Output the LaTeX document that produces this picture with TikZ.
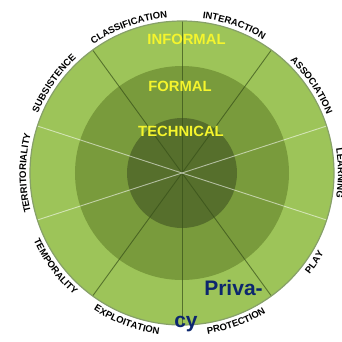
\documentclass[tikz,border=0pt]{standalone}
\usepackage{fontspec}
\setmainfont{Liberation Sans}
\usetikzlibrary{decorations.text}

\definecolor{ringOuter}{RGB}{157,196,89}
\definecolor{ringMiddle}{RGB}{121,155,60}
\definecolor{ringInner}{RGB}{86,111,44}
\definecolor{rimGrey}{RGB}{135,160,105}
\definecolor{spokeDark}{RGB}{55,80,25}
\definecolor{titleYellow}{RGB}{245,245,45}
\definecolor{privNavy}{RGB}{12,38,110}

\newcommand{\labelfont}{\fontsize{9.5}{10}\selectfont\bfseries}

\tikzset{
  darkspoke/.style={spokeDark, opacity=0.7, line width=0.9pt},
  lightspoke/.style={white, opacity=0.55, line width=0.9pt},
  rim/.style={rimGrey, line width=1.2pt},
  ringtitle/.style={titleYellow, font=\fontsize{14.8}{16}\selectfont\bfseries, inner sep=0pt},
  privtext/.style={privNavy, font=\fontsize{21}{24}\selectfont\bfseries, inner sep=0pt},
  arclabel/.style={decorate, decoration={text along path, text align=center,
      text={|\labelfont|#1}}},
}

\begin{document}
\begin{tikzpicture}[x=1pt,y=1pt]
  \useasboundingbox (-182,-168) rectangle (160,173);

  % rings
  \fill[ringOuter] (0,0) circle (152);
  \fill[ringMiddle] (0,0) circle (107);
  \fill[ringInner] (0,0) circle (55);

  % spokes
  \foreach \a in {90,54,-54,-90,-126,126}
    \draw[darkspoke] (0,0) -- (\a:152);
  \foreach \a in {18,-18,162,-162}
    \draw[lightspoke] (0,0) -- (\a:152);
  \draw[rim] (0,0) circle (152);

  % labels, upper half
  \path[arclabel=CLASSIFICATION] (140:156) arc[start angle=140, end angle=80, radius=156];
  \path[arclabel=INTERACTION] (100.5:156) arc[start angle=100.5, end angle=40.5, radius=156];
  \path[arclabel=ASSOCIATION] (64:156) arc[start angle=64, end angle=4, radius=156];
  \path[arclabel=LEARNING] (30:156) arc[start angle=30, end angle=-30, radius=156];
  \path[arclabel=SUBSISTENCE] (175:156) arc[start angle=175, end angle=115, radius=156];
  \path[arclabel=TERRITORIALITY] (210:156) arc[start angle=210, end angle=150, radius=156];
  % labels, lower half
  \path[arclabel=PLAY] (-64:163) arc[start angle=-64, end angle=-4, radius=163];
  \path[arclabel=PROTECTION] (-100:163) arc[start angle=-100, end angle=-40, radius=163];
  \path[arclabel=EXPLOITATION] (-140.5:163) arc[start angle=-140.5, end angle=-80.5, radius=163];
  \path[arclabel=TEMPORALITY] (-173.5:163) arc[start angle=-173.5, end angle=-113.5, radius=163];

  % ring titles
  \node[ringtitle] (informal) at (4.5,134) {INFORMAL};
  \node[ringtitle] (formal) at (-2,87) {FORMAL};
  \node[ringtitle] (technical) at (-1,42) {TECHNICAL};

  \node[privtext] (privA) at (51.5,-114.7) {Priva-};
  \node[privtext, anchor=base] (privB) at (4,-154) {cy};
\end{tikzpicture}
\end{document}
